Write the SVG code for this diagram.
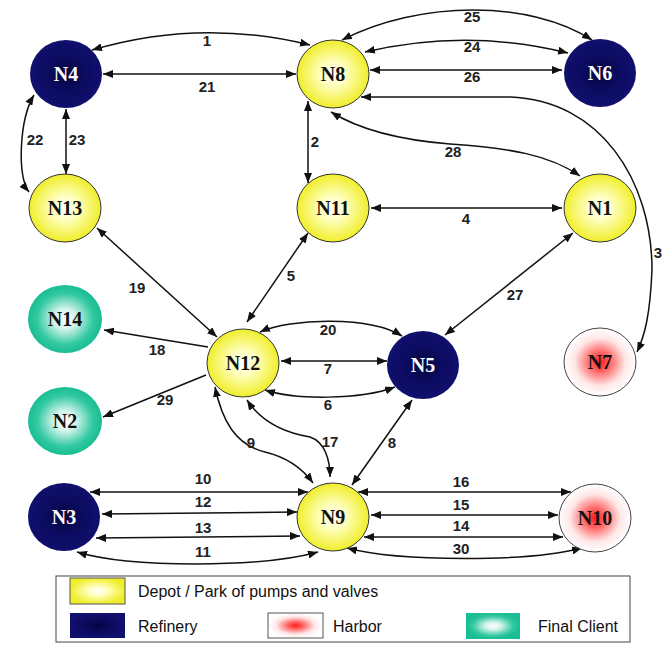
<svg xmlns="http://www.w3.org/2000/svg" width="672" height="662" viewBox="0 0 672 662">
<style>
.edge{fill:none;stroke:#111;stroke-width:1.5;}
.dbl{marker-start:url(#ah);marker-end:url(#ah);}
.one{marker-end:url(#ah);}
.lbl{font-family:"Liberation Sans",Arial,sans-serif;font-weight:bold;font-size:15px;fill:#222;text-anchor:middle;}
.nt{font-family:"Liberation Serif","Times New Roman",serif;font-weight:bold;font-size:20px;text-anchor:middle;}
.dark{fill:#111;}
.light{fill:#fff;}
.depot{fill:url(#gY);stroke:#333;stroke-width:1;}
.ref{fill:url(#gN);}
.harb{fill:url(#gR);stroke:#444;stroke-width:1;}
.cli{fill:url(#gT);}
.leg{font-family:"Liberation Sans",Arial,sans-serif;font-size:16px;fill:#111;}
</style>
<defs>
<marker id="ah" markerUnits="userSpaceOnUse" markerWidth="10" markerHeight="8" refX="10" refY="4" orient="auto-start-reverse">
<path d="M0,0 L10,4 L0,8 z" fill="#111"/>
</marker>
<radialGradient id="gY" cx="50%" cy="50%" r="50%">
<stop offset="0" stop-color="#ffffff"/>
<stop offset="0.35" stop-color="#ffffc0"/>
<stop offset="1" stop-color="#f0ee2a"/>
</radialGradient>
<radialGradient id="gN" cx="50%" cy="50%" r="50%">
<stop offset="0" stop-color="#05053c"/>
<stop offset="0.5" stop-color="#0b0b60"/>
<stop offset="1" stop-color="#10106e"/>
</radialGradient>
<radialGradient id="gR" cx="50%" cy="50%" r="50%">
<stop offset="0" stop-color="#ff1a1a"/>
<stop offset="0.3" stop-color="#ff6a6a"/>
<stop offset="0.7" stop-color="#ffe6e6"/>
<stop offset="1" stop-color="#ffffff"/>
</radialGradient>
<radialGradient id="gT" cx="50%" cy="50%" r="50%">
<stop offset="0" stop-color="#ffffff"/>
<stop offset="0.3" stop-color="#d2f3ea"/>
<stop offset="0.75" stop-color="#34c9a2"/>
<stop offset="1" stop-color="#18bd93"/>
</radialGradient>
</defs>
<rect width="672" height="662" fill="#ffffff"/>

<g id="connectors">
<path class="edge dbl" d="M92 50 Q200 18 310 45"/>
<path class="edge dbl" d="M103 74 L296 74"/>
<path class="edge dbl" d="M29 192 C17 178 19 120 34 95"/>
<path class="edge dbl" d="M66 109 L66 174"/>
<path class="edge dbl" d="M308 101 L308 183"/>
<path class="edge dbl" d="M342 40 C420 0 530 0 592 40"/>
<path class="edge dbl" d="M365 52 Q467 28 568 53"/>
<path class="edge dbl" d="M370 70 L562 70"/>
<path class="edge dbl" d="M361 97 L510 97 C600 100 652 180 652 270 C650 315 645 335 637 352"/>
<path class="edge dbl" d="M331 112 C360 130 400 140 450 144 C510 148 550 155 580 176"/>
<path class="edge dbl" d="M371 208 L562 208"/>
<path class="edge dbl" d="M573 233 L445 335"/>
<path class="edge dbl" d="M308 233 L247 322"/>
<path class="edge dbl" d="M97 228 L217 337"/>
<path class="edge one" d="M208 347 L104 330"/>
<path class="edge one" d="M206 375 L103 417"/>
<path class="edge dbl" d="M260 332 C290 318 370 316 402 336"/>
<path class="edge dbl" d="M281 361 L387 361"/>
<path class="edge dbl" d="M265 390 C295 400 360 400 395 387"/>
<path class="edge dbl" d="M215 387 C222 420 235 445 265 452 C290 458 305 472 313 483"/>
<path class="edge dbl" d="M247 400 C260 420 280 432 310 437 C325 442 330 460 330 477"/>
<path class="edge dbl" d="M412 400 L352 485"/>
<path class="edge dbl" d="M90 492 L308 492"/>
<path class="edge dbl" d="M102 514 L297 512"/>
<path class="edge dbl" d="M96 538 L300 536"/>
<path class="edge dbl" d="M77 552 C130 568 260 568 318 552"/>
<path class="edge dbl" d="M358 492 L571 492"/>
<path class="edge dbl" d="M371 515 L558 515"/>
<path class="edge dbl" d="M364 537 L563 537"/>
<path class="edge dbl" d="M347 548 C400 562 530 562 582 548"/>
</g>

<g id="edge-labels">
<text class="lbl" x="207" y="46">1</text>
<text class="lbl" x="207" y="92">21</text>
<text class="lbl" x="35" y="145">22</text>
<text class="lbl" x="77" y="145">23</text>
<text class="lbl" x="315" y="147">2</text>
<text class="lbl" x="472" y="22">25</text>
<text class="lbl" x="472" y="52">24</text>
<text class="lbl" x="472" y="82">26</text>
<text class="lbl" x="658" y="258">3</text>
<text class="lbl" x="453" y="157">28</text>
<text class="lbl" x="466" y="224">4</text>
<text class="lbl" x="515" y="300">27</text>
<text class="lbl" x="291" y="281">5</text>
<text class="lbl" x="137" y="293">19</text>
<text class="lbl" x="157" y="355">18</text>
<text class="lbl" x="165" y="405">29</text>
<text class="lbl" x="328" y="335">20</text>
<text class="lbl" x="328" y="374">7</text>
<text class="lbl" x="328" y="410">6</text>
<text class="lbl" x="251" y="448">9</text>
<text class="lbl" x="330" y="447">17</text>
<text class="lbl" x="392" y="448">8</text>
<text class="lbl" x="203" y="484">10</text>
<text class="lbl" x="203" y="507">12</text>
<text class="lbl" x="203" y="533">13</text>
<text class="lbl" x="203" y="557">11</text>
<text class="lbl" x="461" y="487">16</text>
<text class="lbl" x="461" y="510">15</text>
<text class="lbl" x="461" y="531">14</text>
<text class="lbl" x="461" y="554">30</text>
</g>

<g id="N4"><ellipse class="ref" cx="66" cy="74" rx="36" ry="34"/><text class="nt light" x="66" y="81">N4</text></g>
<g id="N8"><ellipse class="depot" cx="333" cy="74" rx="36" ry="34"/><text class="nt dark" x="333" y="81">N8</text></g>
<g id="N6"><ellipse class="ref" cx="600" cy="73" rx="36" ry="34"/><text class="nt light" x="600" y="80">N6</text></g>
<g id="N13"><ellipse class="depot" cx="65" cy="208" rx="36" ry="34"/><text class="nt dark" x="65" y="215">N13</text></g>
<g id="N11"><ellipse class="depot" cx="333" cy="208" rx="36" ry="34"/><text class="nt dark" x="333" y="215">N11</text></g>
<g id="N1"><ellipse class="depot" cx="600" cy="208" rx="36" ry="34"/><text class="nt dark" x="600" y="215">N1</text></g>
<g id="N14"><ellipse class="cli" cx="65" cy="319" rx="37" ry="34"/><text class="nt dark" x="65" y="326">N14</text></g>
<g id="N2"><ellipse class="cli" cx="65" cy="421" rx="37" ry="34"/><text class="nt dark" x="65" y="428">N2</text></g>
<g id="N12"><ellipse class="depot" cx="243" cy="363" rx="36" ry="34"/><text class="nt dark" x="243" y="370">N12</text></g>
<g id="N5"><ellipse class="ref" cx="423" cy="365" rx="36" ry="34"/><text class="nt light" x="423" y="372">N5</text></g>
<g id="N7"><ellipse class="harb" cx="600" cy="362" rx="36" ry="34"/><text class="nt dark" x="600" y="369">N7</text></g>
<g id="N3"><ellipse class="ref" cx="64" cy="517" rx="36" ry="34"/><text class="nt light" x="64" y="524">N3</text></g>
<g id="N9"><ellipse class="depot" cx="333" cy="517" rx="36" ry="34"/><text class="nt dark" x="333" y="524">N9</text></g>
<g id="N10"><ellipse class="harb" cx="595" cy="518" rx="36" ry="34"/><text class="nt dark" x="595" y="525">N10</text></g>

<g id="legend">
<rect x="56" y="576" width="574" height="66" fill="#fff" stroke="#444" stroke-width="1"/>
<rect x="70" y="578" width="55" height="26" fill="url(#gY)" stroke="#555" stroke-width="1"/>
<text class="leg" x="138" y="597">Depot / Park of pumps and valves</text>
<rect x="70" y="613" width="55" height="25" fill="url(#gN)"/>
<text class="leg" x="138" y="632">Refinery</text>
<rect x="268" y="613" width="55" height="25" fill="url(#gR)" stroke="#555" stroke-width="1"/>
<text class="leg" x="333" y="632">Harbor</text>
<rect x="466" y="613" width="54" height="26" fill="url(#gT)"/>
<text class="leg" x="538" y="632">Final Client</text>
</g>
</svg>
